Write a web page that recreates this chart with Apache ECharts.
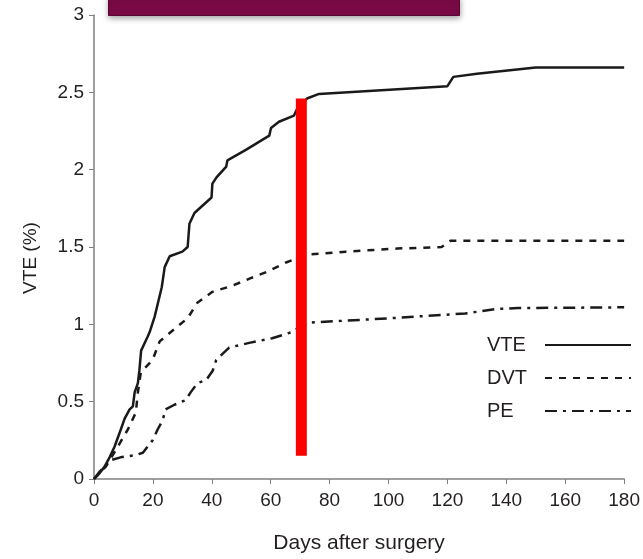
<!DOCTYPE html>
<html lang="en">
<head>
<meta charset="UTF-8">
<title>VTE after surgery</title>
<style type="text/css">
    html, body { margin: 0; padding: 0; background: #fff; }
    #main { width: 643px; height: 559px; }
</style>
</head>
<body>
<div id="main"></div>
<script src="https://cdn.jsdelivr.net/npm/echarts@6/dist/echarts.min.js"></script>
<script type="text/javascript">
// cumulative incidence, [days after surgery, %]
var vte = [[0,0],[2,0.04],[3.6,0.08],[5.3,0.14],[7,0.21],[9.1,0.32],[10.4,0.39],[12.1,0.45],[13.2,0.47],
    [13.8,0.56],[14.9,0.62],[15.4,0.7],[16,0.83],[18.2,0.92],[18.9,0.95],[20.6,1.05],[23,1.24],[24,1.37],
    [25.7,1.44],[30,1.47],[31.8,1.5],[32.4,1.65],[34.1,1.72],[39.9,1.82],[40.2,1.91],[41.6,1.95],[44.9,2.02],
    [45.3,2.06],[51.7,2.13],[59.5,2.22],[60.1,2.27],[62.8,2.31],[67.9,2.35],[68.9,2.39],[72.3,2.46],
    [76.4,2.49],[120,2.54],[122,2.6],[130,2.62],[150,2.66],[180,2.66]];
var dvt = [[0,0],[4,0.08],[8.1,0.21],[11.5,0.32],[14.2,0.43],[14.9,0.56],[15.9,0.69],[19.9,0.77],[22.3,0.89],
    [26.7,0.96],[31.8,1.04],[35.1,1.14],[40.2,1.21],[47,1.25],[53.4,1.3],[58.8,1.34],[65.2,1.4],[72.3,1.45],
    [85.5,1.47],[103,1.49],[118,1.5],[121,1.54],[180,1.54]];
var pe = [[0,0],[2,0.05],[3.6,0.08],[5.3,0.12],[9,0.14],[14.2,0.155],[16.6,0.17],[19.9,0.25],[21.6,0.32],
    [23.3,0.38],[24.3,0.45],[27.3,0.48],[31.1,0.51],[32.8,0.56],[35.1,0.62],[38.1,0.64],[40.3,0.7],[41.5,0.77],
    [44.8,0.83],[45.9,0.85],[52.7,0.88],[60.5,0.91],[67.2,0.95],[72.3,1.01],[101,1.04],[126,1.07],[137,1.1],
    [144,1.105],[180,1.11]];
// red marker at day ~70
var marker = [[70.4,0.15],[70.4,2.46]];

var font = "'Liberation Sans', Arial, sans-serif";
var ink = '#231f20';

var chart = echarts.init(document.getElementById('main'));
chart.setOption({
    animation: false,
    grid: {left: 94, right: 16, top: 15, bottom: 80},
    xAxis: {
        type: 'value', min: 0, max: 180, interval: 20,
        name: 'Days after surgery', nameLocation: 'middle', nameGap: 54,
        nameTextStyle: {fontFamily: font, fontSize: 21, color: ink},
        axisLine: {lineStyle: {color: '#808080', width: 1.5}},
        axisTick: {length: 5, lineStyle: {color: '#808080'}},
        axisLabel: {fontFamily: font, fontSize: 19, color: ink, margin: 12},
        splitLine: {show: false}
    },
    yAxis: {
        type: 'value', min: 0, max: 3, interval: 0.5,
        name: 'VTE (%)', nameLocation: 'middle', nameGap: 54,
        nameTextStyle: {fontFamily: font, fontSize: 19, color: ink, padding: [0, 22, 0, 0]},
        axisLine: {show: true, lineStyle: {color: '#808080', width: 1.5}},
        axisTick: {show: true, length: 5, lineStyle: {color: '#808080'}},
        axisLabel: {fontFamily: font, fontSize: 19, color: ink, margin: 10},
        splitLine: {show: false}
    },
    legend: {
        data: ['VTE', 'DVT', 'PE'],
        orient: 'vertical', left: 482, top: 330,
        align: 'right', itemWidth: 86, itemHeight: 12, itemGap: 13,
        itemStyle: {opacity: 0},
        formatter: '{t|{name}}',
        textStyle: {
            fontFamily: font, fontSize: 20, color: ink,
            rich: {t: {fontFamily: font, fontSize: 20, color: ink, width: 53, align: 'left'}}
        }
    },
    graphic: [{
        type: 'rect', left: 108, top: -4,
        shape: {width: 351, height: 19},
        style: {fill: '#7a0a45', stroke: '#5a0633', lineWidth: 1,
            shadowBlur: 6, shadowOffsetY: 2, shadowColor: 'rgba(0,0,0,0.35)'}
    }],
    series: [{
        name: 'VTE', type: 'line', data: vte, symbol: 'none', color: '#1a1a1a',
        lineStyle: {color: '#1a1a1a', width: 2.5}
    }, {
        name: 'DVT', type: 'line', data: dvt, symbol: 'none', color: '#1a1a1a',
        lineStyle: {color: '#1a1a1a', width: 2.5, type: [7, 7]}
    }, {
        name: 'PE', type: 'line', data: pe, symbol: 'none', color: '#1a1a1a',
        lineStyle: {color: '#1a1a1a', width: 2.5, type: [12, 6, 3, 6]}
    }, {
        name: 'marker', type: 'line', data: marker, symbol: 'none', silent: true,
        lineStyle: {color: '#ff0000', width: 11, cap: 'butt'}, z: 5
    }]
});
</script>
</body>
</html>
